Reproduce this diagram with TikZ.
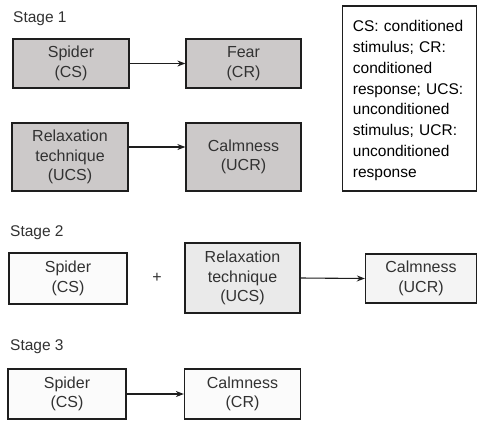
\documentclass[tikz,border=0pt]{standalone}
\usepackage{fontspec}
\setmainfont{Liberation Sans}
\usetikzlibrary{arrows.meta}
\definecolor{ink}{RGB}{30,30,30}
\definecolor{txt}{RGB}{50,50,50}
\definecolor{fillA}{RGB}{204,201,201}
\definecolor{fillB}{RGB}{234,234,234}
\definecolor{fillC}{RGB}{244,244,244}
\definecolor{fillD}{RGB}{251,251,251}
\tikzset{
  box/.style={draw=ink, line width=1.3pt, text=txt, inner sep=0pt, align=center,
    font=\fontsize{16}{19.5}\selectfont},
  stagelabel/.style={anchor=base west, inner sep=0pt, text=txt, font=\fontsize{15.5}{18}\selectfont},
  conn/.style={draw=ink, line width=1.1pt, -{Stealth[length=8pt,width=6pt]}},
}
\begin{document}
\begin{tikzpicture}[x=1pt,y=-1pt]
\useasboundingbox (0,0) rectangle (478,421);
\fill[white] (0,0) rectangle (478,421);
% Stage 1
\node[stagelabel] (st1) at (13,22) {Stage 1};
\node[box, fill=fillA, minimum width=116pt, minimum height=49pt] (s1a) at (71,63.5) {Spider\\(CS)};
\node[box, fill=fillA, minimum width=115pt, minimum height=49pt] (s1b) at (243.5,63.5) {Fear\\(CR)};
\node[box, fill=fillA, minimum width=116pt, minimum height=68pt] (s1c) at (70,157) {Relaxation\\technique\\(UCS)};
\node[box, fill=fillA, minimum width=115pt, minimum height=68pt] (s1d) at (243.5,157) {Calmness\\(UCR)};
\draw[conn] (s1a.east) -- (s1b.west);
\draw[conn] ([yshift=10pt]s1c.east) -- ([yshift=10pt]s1d.west);
% Legend
\node[draw=ink, line width=1.5pt, minimum width=134pt, minimum height=185pt, inner sep=0pt] (leg) at (409.5,98.5) {};
\node[anchor=base west, inner sep=0pt, text width=124pt, align=left, text=black,
  font=\fontsize{15.5}{20.8}\selectfont] (legtext) at (352.7,31.7)
  {CS: conditioned\\stimulus; CR:\\conditioned\\response; UCS:\\unconditioned\\stimulus; UCR:\\unconditioned\\response};
% Stage 2
\node[stagelabel] (st2) at (10,236) {Stage 2};
\node[box, fill=fillD, minimum width=118pt, minimum height=51pt] (s2a) at (68,278.5) {Spider\\(CS)};
\node[text=txt, inner sep=0pt, font=\fontsize{16}{19}\selectfont] (plus) at (157,278) {+};
\node[box, fill=fillB, minimum width=115pt, minimum height=70pt] (s2b) at (242.5,278) {Relaxation\\technique\\(UCS)};
\node[box, fill=fillC, minimum width=111pt, minimum height=49pt] (s2c) at (421,278.5) {Calmness\\(UCR)};
\draw[conn] (s2b.east) -- (s2c.west);
% Stage 3
\node[stagelabel] (st3) at (10,350.7) {Stage 3};
\node[box, fill=fillD, minimum width=118pt, minimum height=50pt] (s3a) at (67,394) {Spider\\(CS)};
\node[box, fill=fillD, minimum width=116pt, minimum height=50pt] (s3b) at (242.5,394) {Calmness\\(CR)};
\draw[conn] (s3a.east) -- (s3b.west);
\end{tikzpicture}
\end{document}
